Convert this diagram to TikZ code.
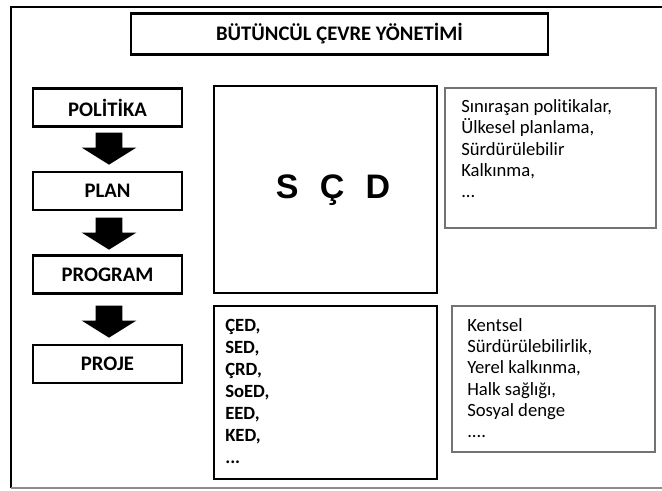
\documentclass[tikz,border=0pt]{standalone}
\usepackage{fontspec}
\setmainfont{Carlito}[Ligatures=NoCommon]
\newfontfamily\arialfont{Liberation Sans}
\usetikzlibrary{shapes.arrows}

\tikzset{
  stepbox/.style={draw=black, line width=1.6pt, minimum width=111.75pt, minimum height=28.5pt, inner sep=0pt, font=\fontsize{15.5}{18}\selectfont\bfseries},
  bigbox/.style={draw=black, line width=1.6pt, inner sep=0pt},
  notebox/.style={draw=black!55, line width=0.8pt, inner sep=0pt},
  notetext/.style={align=left, inner sep=0pt, anchor=base west, font=\fontsize{14}{16}\selectfont},
  downarrow/.style={single arrow, fill=black, draw=none, rotate=-90, anchor=tip,
    minimum height=24pt, minimum width=40.5pt, inner xsep=0pt, inner ysep=9.75pt,
    single arrow head extend=10.5pt, single arrow tip angle=116, single arrow head indent=0pt}
}

\begin{document}
\begin{tikzpicture}[x=0.75pt, y=-0.75pt]
  \useasboundingbox (0,0) rectangle (662,491);

  % draw outer frame
  \draw[line width=2pt] (662,7) -- (11,7) -- (11,488);
  \draw[line width=2pt, black!45] (11,488) -- (662,488);

  % draw title
  \node[bigbox, minimum width=312.75pt, minimum height=30.75pt, font=\fontsize{15.5}{18}\selectfont\bfseries] (title) at (339.5,34) {BÜTÜNCÜL ÇEVRE YÖNETİMİ};

  % draw steps with nodes
  \foreach [count=\n] \lbl/\yy in {POLİTİKA/107.5,PLAN/191,PROGRAM/274.5,PROJE/364} {
    \node[stepbox] (step\n) at (107.5,\yy) {\lbl};
  };

  % draw arrows between the steps
  \foreach [count=\n] \yy in {165,250,338} {
    \node[downarrow] (arrow\n) at (109,\yy) {};
  };

  % draw middle boxes
  \node[bigbox, minimum width=167.25pt, minimum height=155.25pt] (scd) at (325.5,189.5) {};
  \node[font=\fontsize{25.5}{30}\selectfont\arialfont\bfseries, inner sep=0pt, anchor=base] (scdtext) at (333,199) {S\hspace{16pt}Ç\hspace{16pt}D};

  \node[bigbox, minimum width=167.25pt, minimum height=129.75pt] (tools) at (325.5,392.5) {};
  \node[notetext, font=\fontsize{14}{16.5}\selectfont\bfseries] (toolstext) at (225,464) {ÇED,\\SED,\\ÇRD,\\SoED,\\EED,\\KED,\\...};

  % draw notes on the right, texts placed by their last line
  \node[notebox, minimum width=158.25pt, minimum height=105pt] (policy) at (550.5,158) {};
  \node[notetext] (policytext) at (461,198) {Sınıraşan politikalar,\\Ülkesel planlama,\\Sürdürülebilir\\Kalkınma,\\...};

  \node[notebox, minimum width=152.25pt, minimum height=109.5pt] (local) at (553.5,379) {};
  \node[notetext] (localtext) at (467,438) {Kentsel\\Sürdürülebilirlik,\\Yerel kalkınma,\\Halk sağlığı,\\Sosyal denge\\....};

\end{tikzpicture}
\end{document}
